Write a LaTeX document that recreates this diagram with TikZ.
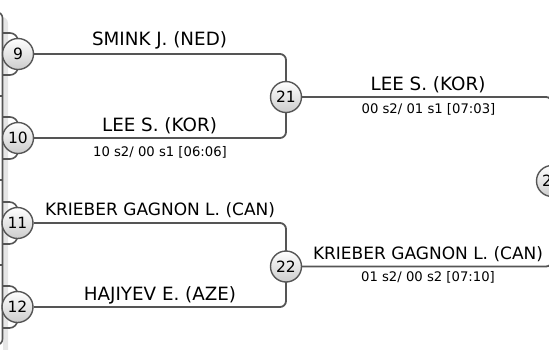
\documentclass[tikz,border=0pt]{standalone}
\usepackage{fontspec}
\setmainfont{DejaVu Sans}
\definecolor{lnc}{HTML}{555555}
\definecolor{shd}{HTML}{E6E6E6}
\tikzset{
  conn/.style={draw=lnc, line width=1.8pt, rounded corners=6pt},
  inconn/.style={draw=lnc, line width=1.6pt, rounded corners=8pt},
  seed/.style={circle, draw=lnc, line width=1.4pt, minimum size=31pt, inner sep=0pt,
    top color=white, bottom color=black!20, font=\fontsize{15.5}{15.5}\selectfont},
  athlete/.style={anchor=base, inner sep=0pt, font=\fontsize{18.3}{18.3}\selectfont},
  longathlete/.style={anchor=base, inner sep=0pt, font=\fontsize{17}{17}\selectfont},
  score/.style={anchor=base, inner sep=0pt, font=\fontsize{13.2}{13.2}\selectfont},
}
\begin{document}
\begin{tikzpicture}[x=1pt,y=-1pt]
\useasboundingbox (0,0) rectangle (549,349);
\clip (0,0) rectangle (549,349);
% left panel (previous round) with its shadow
\fill[shd, rounded corners=6pt] (-20,17) rectangle (8,360);
\fill[white] (-20,0) rectangle (2.5,360);
\draw[lnc, line width=1.6pt, rounded corners=6pt] (-20,12) -- (2.5,12) -- (2.5,345) -- (-20,345);
\foreach \y in {96,180,265} \draw[lnc, line width=1.4pt] (0,\y) -- (2.5,\y);
% first-column seeds (positions)
\coordinate (c9) at (18,54);
\coordinate (c10) at (18,138);
\coordinate (c11) at (17.5,223);
\coordinate (c12) at (17.5,307);
% incoming connectors behind the seeds
\coordinate (a9t) at (2.5,33);   \coordinate (a9b) at (2.5,75);
\coordinate (a10t) at (2.5,117); \coordinate (a10b) at (2.5,159);
\coordinate (a11t) at (2.5,202); \coordinate (a11b) at (2.5,244);
\coordinate (a12t) at (2.5,286); \coordinate (a12b) at (2.5,328);
\foreach \s in {9,10,11,12}{
  \draw[inconn] (a\s t) -| (c\s);
  \draw[inconn] (a\s b) -| (c\s);
}
\node[seed] (n9) at (c9) {9};
\node[seed] (n10) at (c10) {10};
\node[seed] (n11) at (c11) {11};
\node[seed] (n12) at (c12) {12};
% later rounds
\coordinate (c21) at (286,97);
\coordinate (c22) at (286,266.5);
\coordinate (c23) at (552,181);
\draw[conn] (n9) -| (c21);
\draw[conn] (n10) -| (c21);
\draw[conn] (n11) -| (c22);
\draw[conn] (n12) -| (c22);
\draw[conn] (c21) -| (c23);
\draw[conn] (c22) -| (c23);
\node[seed] (n21) at (c21) {21};
\node[seed] (n22) at (c22) {22};
\node[seed] (n23) at (c23) {23};
% labels
\node[athlete] (t9) at (159.5,45.7) {SMINK J. (NED)};
\node[athlete] (t10) at (159.5,131) {LEE S. (KOR)};
\node[score] (s10) at (160,156.5) {10 s2/ 00 s1 [06:06]};
\node[longathlete] (t11) at (160,215.7) {KRIEBER GAGNON L. (CAN)};
\node[athlete] (t12) at (160,300) {HAJIYEV E. (AZE)};
\node[athlete] (t21) at (428,90) {LEE S. (KOR)};
\node[score] (s21) at (428.5,113) {00 s2/ 01 s1 [07:03]};
\node[longathlete] (t22) at (428,259.3) {KRIEBER GAGNON L. (CAN)};
\node[score] (s22) at (428,281) {01 s2/ 00 s2 [07:10]};
\end{tikzpicture}
\end{document}
